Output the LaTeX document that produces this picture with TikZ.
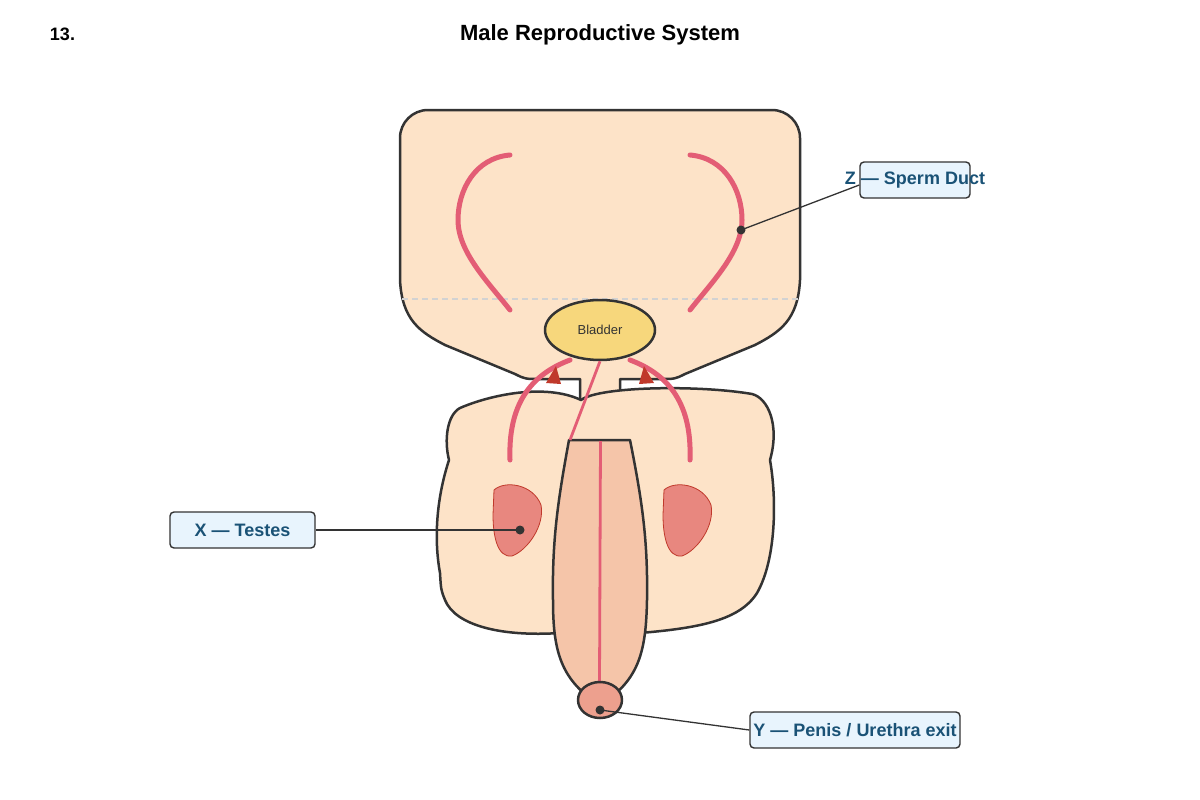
\documentclass[tikz,border=0pt]{standalone}
\usepackage{fontspec}
\setmainfont{Liberation Sans}
\usetikzlibrary{arrows.meta,shapes.geometric}
\definecolor{skin}{HTML}{FDE3C8}
\definecolor{shaft}{HTML}{F5C5A9}
\definecolor{ductpink}{HTML}{E35D75}
\definecolor{tipred}{HTML}{C0392B}
\definecolor{testis}{HTML}{E8877F}
\definecolor{glans}{HTML}{EDA08E}
\definecolor{bladderyel}{HTML}{F7D77C}
\definecolor{boxblue}{HTML}{E8F4FD}
\definecolor{txtblue}{HTML}{1A5276}
\definecolor{ink}{HTML}{333333}
\begin{document}
\begin{tikzpicture}[x=1pt,y=-1pt,
    organ/.style={draw=ink,line width=2.5pt,line join=round},
    duct/.style={ductpink,line width=5pt,line cap=round},
    tube/.style={ductpink,line width=2.8pt},
    lbl/.style={draw=ink,line width=1.4pt,fill=boxblue,rounded corners=4pt,
      text=txtblue,font=\fontsize{18}{20}\selectfont\bfseries,minimum height=36pt,inner ysep=0pt},
    dot/.style={circle,fill=ink,inner sep=0pt,minimum size=9pt},
    pointer/.style={ink,line width=1.3pt}]
\useasboundingbox (0,0) rectangle (1200,800);
% title
\node[font=\fontsize{18}{20}\selectfont\bfseries] (num) at (62.5,34) {13.};
\node[font=\fontsize{22}{26}\selectfont\bfseries] (title) at (600,35) {Male Reproductive System};
% abdomen
\draw[organ,fill=skin] (400,280) [rounded corners=28pt]-- (400,110) -- (800,110) [sharp corners]-- (800,280)
  .. controls (798,320) and (780,332) .. (755,345) -- (685,374) .. controls (675,379) .. (660,379)
  -- (620,379) -- (620,412) -- (580,412) -- (580,379) -- (540,379)
  .. controls (525,379) .. (515,374) -- (445,345) .. controls (420,332) and (402,320) .. cycle;
\draw[gray!35,line width=1.2pt,dash pattern=on 6pt off 4pt] (402,299) -- (798,299);
% scrotum
\draw[organ,fill=skin] (460,408) .. controls (490,395) and (545,383) .. (581,400)
  .. controls (600,386) and (700,385) .. (752,394)
  .. controls (768,398) and (780,425) .. (770,460)
  .. controls (777,500) and (776,560) .. (757,593)
  .. controls (740,620) and (700,628) .. (640,633) -- (560,633)
  .. controls (500,637) and (455,625) .. (445,600)
  .. controls (441,590) .. (440,573)
  .. controls (434,540) and (436,500) .. (449,460)
  .. controls (444,440) and (447,415) .. cycle;
% penis
\draw[organ,fill=shaft] (569,440) -- (630,440) .. controls (642,500) and (648,540) .. (647,600)
  .. controls (646,650) and (640,680) .. (600,705) .. controls (560,680) and (553,650) .. (553,600)
  .. controls (552,540) and (558,500) .. cycle;
% testes
\foreach \dx in {0,170}
  \draw[tipred,line width=0.8pt,fill=testis,xshift=\dx pt] (494,490) .. controls (505,480) and (533,484) .. (541,505)
    .. controls (545,525) and (528,550) .. (512,556) .. controls (497,558) and (493,535) .. (493,515) -- cycle;
% ducts
\draw[duct] (510,155) .. controls (475,158) and (458,190) .. (458,220) .. controls (458,252) and (488,282) .. (510,310);
\draw[duct] (690,155) .. controls (725,158) and (742,190) .. (742,220) .. controls (742,252) and (712,282) .. (690,310);
\draw[duct] (510,460) .. controls (508,405) and (530,375) .. (570,360);
\draw[duct] (690,460) .. controls (692,405) and (670,375) .. (630,360);
\fill[tipred] (546,383) -- (561,384) -- (556,366) -- cycle;
\fill[tipred] (639,384) -- (654,383) -- (644,366) -- cycle;
% bladder and urethra
\node[organ,ellipse,fill=bladderyel,minimum width=110pt,minimum height=60pt,inner sep=0pt,
  text=ink,font=\fontsize{13}{15}\selectfont] (bladder) at (600,330) {Bladder};
\draw[tube] (bladder.south) -- (570,440);
\draw[tube] (600.5,441) -- (599.5,682);
\node[organ,ellipse,fill=glans,minimum width=44pt,minimum height=36pt,inner sep=0pt] (tip) at (600,700) {};
% labels
\node[dot] (zdot) at (741,230) {};
\node[dot] (xdot) at (520,530) {};
\node[dot] (ydot) at (600,710) {};
\node[lbl,inner xsep=-15pt] (zbox) at (915,180) {Z — Sperm Duct};
\node[lbl,minimum width=145pt] (xbox) at (242.5,530) {X — Testes};
\node[lbl,minimum width=210pt] (ybox) at (855,730) {Y — Penis / Urethra exit};
\draw[pointer] (zdot.center) -- ([yshift=-5pt]zbox.west);
\draw[pointer] (xbox.east) -- (xdot.center);
\draw[pointer] (ydot.center) -- (ybox.west);
\end{tikzpicture}
\end{document}
